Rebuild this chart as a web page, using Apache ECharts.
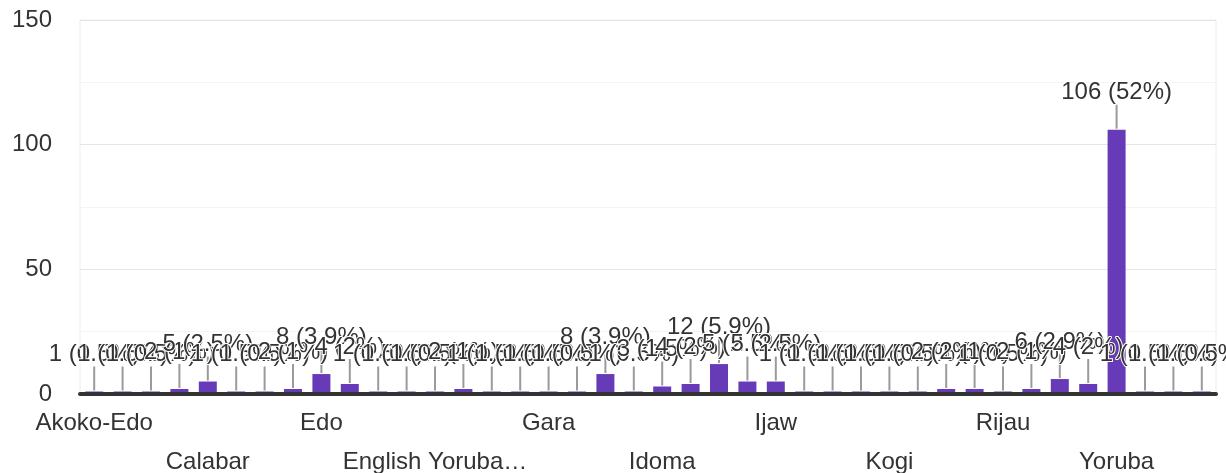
<!DOCTYPE html>
<html>
<head>
<meta charset="utf-8">
<script src="https://cdn.jsdelivr.net/npm/echarts@6/dist/echarts.min.js"></script>
<style>
  html, body { margin: 0; padding: 0; background: #fff; }
  #chart { width: 1226px; height: 473px; }
</style>
</head>
<body>
<div id="chart"></div>
<script>
// Responses per group (alphabetical order)
const categories = [
  'Akoko-Edo', 'Bassa', 'Benin', 'Bini',
  'Calabar', 'Delta', 'Ebira', 'Ebonyi',
  'Edo', 'Efik', 'Egun', 'English',
  'English Yoruba Igbo', 'Esan', 'Etsako', 'Fulani',
  'Gara', 'Gbagyi', 'Hausa', 'Ibibio',
  'Idoma', 'Igala', 'Igbo', 'Ijebu',
  'Ijaw', 'Ikwerre', 'Isoko', 'Itsekiri',
  'Kogi', 'Kwara', 'Nupe', 'Ogoni',
  'Rijau', 'Tiv', 'Urhobo', 'Yagba',
  'Yoruba', 'Yoruba/Edo', 'Yoruba/Igbo', 'Zuru'
];
const counts = [
  1, 1, 1, 2,
  5, 1, 1, 2,
  8, 4, 1, 1,
  1, 2, 1, 1,
  1, 1, 8, 1,
  3, 4, 12, 5,
  5, 1, 1, 1,
  1, 1, 2, 2,
  1, 2, 6, 4,
  106, 1, 1, 1
];
const yTicks = [0, 50, 100, 150];

const total = counts.reduce((a, b) => a + b, 0);
const pct = v => String(Math.round(v / total * 1000) / 10);

const FONT = "'Liberation Sans', Arial, sans-serif";
const chart = echarts.init(document.getElementById('chart'));

// long category names are cut to a fixed width with an ellipsis
const fitName = name => echarts.format.truncateText(name, 190, "24px 'Liberation Sans'", '…');

chart.setOption({
  animation: false,
  grid: {
    left: 80, right: 10, top: 20, bottom: 79,
    outerBoundsMode: 'none', containLabel: false,
    show: true, borderColor: '#ececec', borderWidth: 1
  },
  xAxis: {
    type: 'category',
    data: categories,
    z: 10,
    axisLine: { lineStyle: { color: '#333', width: 4 } },
    axisTick: { show: false },
    axisLabel: {
      interval: 3,
      showMinLabel: true,
      margin: 10,
      fontFamily: FONT,
      fontSize: 24,
      color: '#333',
      lineHeight: 39,
      formatter: (value, index) => (Math.round(index / 4) % 2 === 1 ? '\n' : '') + fitName(value)
    }
  },
  yAxis: {
    type: 'value',
    min: yTicks[0],
    max: yTicks[yTicks.length - 1],
    interval: 50,
    axisLine: { show: false },
    axisTick: { show: false },
    axisLabel: { margin: 28, fontFamily: FONT, fontSize: 24, color: '#333' },
    splitLine: { lineStyle: { color: '#e6e6e6', width: 1 } },
    minorTick: { show: false, splitNumber: 2 },
    minorSplitLine: { show: true, lineStyle: { color: '#f4f4f4', width: 1 } }
  },
  series: [
    {
      // leader lines from each bar top up to its label
      type: 'custom',
      z: 1,
      data: counts.map((v, i) => [i, v]),
      encode: { x: 0, y: 1 },
      renderItem: (params, api) => {
        const p = api.coord([api.value(0), api.value(1)]);
        return {
          type: 'line',
          shape: { x1: p[0], y1: p[1] - 1, x2: p[0], y2: p[1] - 25 },
          style: { stroke: '#9a9a9a', lineWidth: 2 }
        };
      }
    },
    {
      type: 'bar',
      z: 2,
      data: counts,
      barWidth: 18,
      itemStyle: { color: '#673ab7' },
      label: {
        show: true,
        position: 'top',
        distance: 25,
        fontFamily: FONT,
        fontSize: 24,
        color: '#333',
        textBorderColor: '#fff',
        textBorderWidth: 2,
        formatter: p => p.value + ' (' + pct(p.value) + '%)'
      }
    }
  ]
});
</script>
</body>
</html>
